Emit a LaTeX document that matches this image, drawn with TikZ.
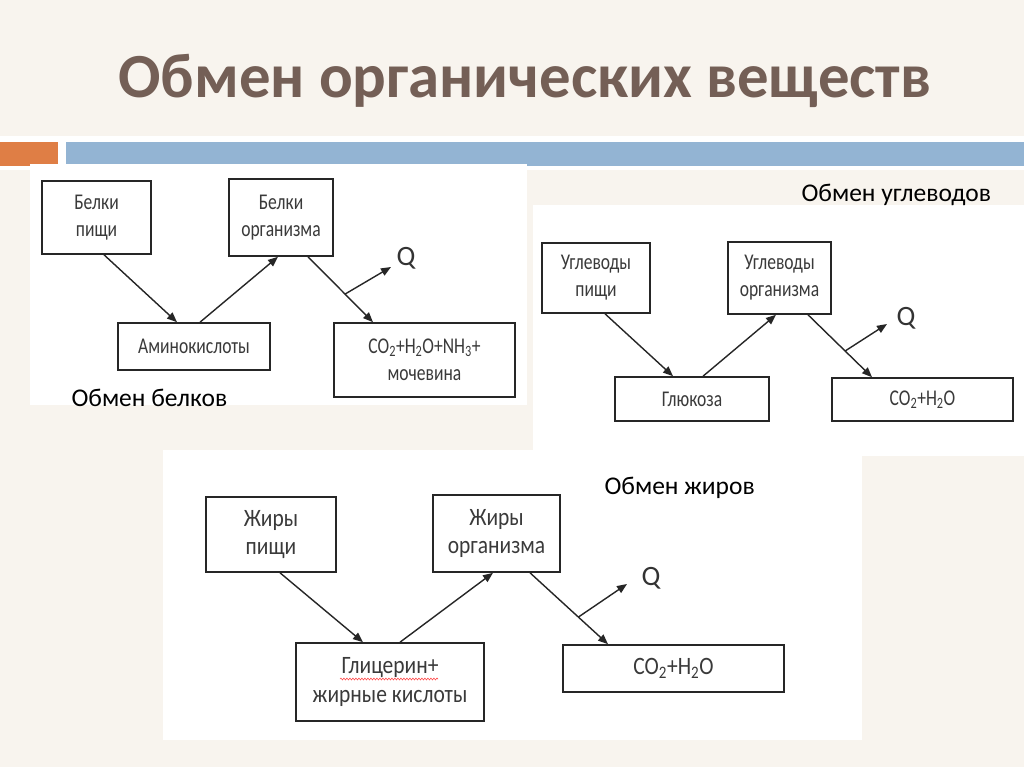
\documentclass[tikz,border=0pt]{standalone}
\usepackage{fontspec}
\setmainfont{Carlito}
\newfontfamily\boxfont[FakeStretch=0.78]{Carlito}
\newfontfamily\boxfontb[FakeStretch=0.86]{Carlito}
\usetikzlibrary{arrows.meta,decorations.pathmorphing}
\definecolor{bgbeige}{HTML}{F8F4EE}
\definecolor{titlebrown}{HTML}{745F56}
\definecolor{barorange}{HTML}{DF7E45}
\definecolor{barblue}{HTML}{93B4D3}
\definecolor{boxtext}{HTML}{3A3A3A}
\tikzset{
  box/.style={draw=black!85, line width=1.6pt, fill=white, align=center, inner sep=0pt,
    text=boxtext, font=\boxfont\fontsize{22.5}{27}\selectfont},
  boxb/.style={box, font=\boxfontb\fontsize{25}{28.5}\selectfont},
  arr/.style={draw=black!85, line width=1.4pt, -{Triangle[length=10pt,width=8pt]}},
  qlbl/.style={font=\fontsize{28}{30}\selectfont, text=black!80},
  caplbl/.style={font=\fontsize{25.5}{28}\selectfont, text=black, anchor=west},
  panel/.style={fill=white, draw=none}
}
\begin{document}
\begin{tikzpicture}[x=1pt,y=-1pt]
\useasboundingbox (0,0) rectangle (1024,767);
\fill[bgbeige] (0,0) rectangle (1024,767);
% title band
\fill[white] (0,136) rectangle (1024,170);
\fill[barorange] (0,142) rectangle (58,166);
\fill[barblue] (66,142) rectangle (1024,166);
\node[font=\fontsize{62.8}{66}\bfseries\selectfont, text=titlebrown] (title) at (525,81) {Обмен органических веществ};
% panels
\fill[panel] (30,164) rectangle (527,405);
\fill[panel] (533,205) rectangle (1024,456);
\fill[panel] (163,450) rectangle (862,740);

% ---- proteins
\node[box, minimum width=109pt, minimum height=73pt] (b1) at (96.5,217.5) {Белки\\пищи};
\node[box, minimum width=104pt, minimum height=77pt] (b2) at (281,217.5) {Белки\\организма};
\node[box, minimum width=152pt, minimum height=47pt] (b3) at (194,346.5) {Аминокислоты};
\node[box, minimum width=181pt, minimum height=74pt] (b4) at (424.5,360) {CO\textsubscript{2}+H\textsubscript{2}O+NH\textsubscript{3}+\\мочевина};
\node[qlbl] (q1) at (406,258) {Q};
\coordinate (qa1) at (391,267);
\draw[arr] ([xshift=7.5pt]b1.south) -- ([xshift=-17pt]b3.north);
\draw[arr] ([xshift=6pt]b3.north) -- ([xshift=-3pt]b2.south);
\draw[arr] ([xshift=27pt]b2.south) -- coordinate[pos=0.57] (m1) ([xshift=-51.5pt]b4.north);
\draw[arr] (m1) -- (qa1);
\node[caplbl] (l1) at (68,398) {Обмен белков};

% ---- carbohydrates
\node[box, minimum width=108pt, minimum height=70pt] (c1) at (596,278) {Углеводы\\пищи};
\node[box, minimum width=103pt, minimum height=72pt] (c2) at (779.5,278) {Углеводы\\организма};
\node[box, minimum width=154pt, minimum height=44pt] (c3) at (692,399) {Глюкоза};
\node[box, minimum width=181pt, minimum height=43pt] (c4) at (922.5,399.5) {CO\textsubscript{2}+H\textsubscript{2}O};
\node[qlbl] (q2) at (906,318) {Q};
\coordinate (qa2) at (887,324);
\draw[arr] ([xshift=9pt]c1.south) -- ([xshift=-19pt]c3.north);
\draw[arr] ([xshift=11pt]c3.north) -- ([xshift=-3.5pt]c2.south);
\draw[arr] ([xshift=28.5pt]c2.south) -- coordinate[pos=0.58] (m2) ([xshift=-50.5pt]c4.north);
\draw[arr] (m2) -- (qa2);
\node[caplbl] (l2) at (798,195) {Обмен углеводов};

% ---- fats
\node[boxb, minimum width=130pt, minimum height=75pt] (d1) at (271,534.5) {Жиры\\пищи};
\node[boxb, minimum width=127pt, minimum height=77pt] (d2) at (496.5,533.5) {Жиры\\организма};
\node[boxb, minimum width=188pt, minimum height=78pt] (d3) at (390,682) {Глицерин+\\жирные кислоты};
\node[boxb, minimum width=221pt, minimum height=47pt] (d4) at (673.5,668.5) {CO\textsubscript{2}+H\textsubscript{2}O};
\node[qlbl] (q3) at (651,578) {Q};
\coordinate (qa3) at (627,584);
\draw[arr] ([xshift=9pt]d1.south) -- ([xshift=-27pt]d3.north);
\draw[arr] ([xshift=10pt]d3.north) -- ([xshift=-3.5pt]d2.south);
\draw[arr] ([xshift=33.5pt]d2.south) -- coordinate[pos=0.62] (m3) ([xshift=-65.5pt]d4.north);
\draw[arr] (m3) -- (qa3);
\node[caplbl] (l3) at (601,488) {Обмен жиров};
% spell-check squiggle
\coordinate (sq1) at (340,679);
\coordinate (sq2) at (438,679);
\draw[red!70, line width=0.6pt, decorate, decoration={snake, amplitude=0.9pt, segment length=3pt}] (sq1) -- (sq2);
\end{tikzpicture}
\end{document}
